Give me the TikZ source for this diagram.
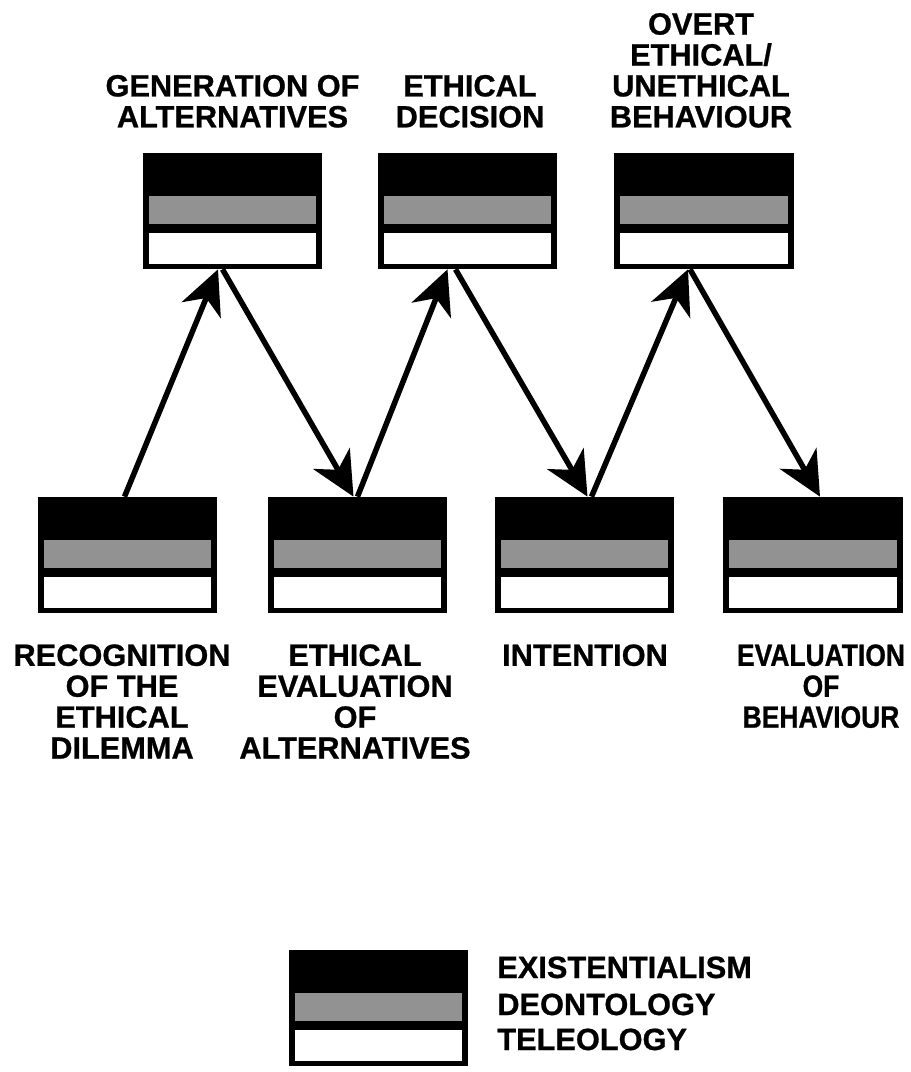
\documentclass[tikz,border=0pt]{standalone}
\usepackage{fontspec}
\setmainfont{Liberation Sans}
\usetikzlibrary{arrows.meta}
\definecolor{MyGray}{HTML}{929292}

\tikzset{
  stagebox/.style={fill=black, minimum width=3.6cm, minimum height=2.32cm, inner sep=0pt,
    path picture={
      \fill[MyGray] ([xshift=0.12cm,yshift=-0.86cm]path picture bounding box.north west)
        rectangle ([xshift=-0.12cm,yshift=-1.42cm]path picture bounding box.north east);
      \fill[white] ([xshift=0.12cm,yshift=-1.6cm]path picture bounding box.north west)
        rectangle ([xshift=-0.12cm,yshift=-2.22cm]path picture bounding box.north east);
    }},
  steplabel/.style={align=center, inner sep=0pt,
    font=\fontsize{17.5}{17.6}\selectfont\bfseries\addfontfeature{FakeBold=0.8}},
  flowarrow/.style={line width=0.11cm, -{Stealth[length=0.88cm, width=0.84cm, inset=0.26cm]}}
}

\begin{document}
\begin{tikzpicture}[x=0.02cm, y=-0.02cm]
        \useasboundingbox (0,0) rectangle (910,1072);

        % upper row
        \node[stagebox] (Gen) at (232.5,211) {};
        \node[stagebox] (Dec) at (467.5,211) {};
        \node[stagebox] (Beh) at (704,211) {};
        \node[steplabel, anchor=south] (GenL) at (232.5,128) {GENERATION OF\\ALTERNATIVES};
        \node[steplabel, anchor=south] (DecL) at (470,128) {ETHICAL\\DECISION};
        \node[steplabel, anchor=south] (BehL) at (701,128) {OVERT\\ETHICAL/\\UNETHICAL\\BEHAVIOUR};

        % lower row
        \node[stagebox] (Rec) at (127.5,555) {};
        \node[stagebox] (Eva) at (357.5,555) {};
        \node[stagebox] (Int) at (584.5,555) {};
        \node[stagebox] (Res) at (813,555) {};
        \node[steplabel, anchor=north] (RecL) at (122,644) {RECOGNITION\\OF THE\\ETHICAL\\DILEMMA};
        \node[steplabel, anchor=north] (EvaL) at (355,644) {ETHICAL\\EVALUATION\\OF\\ALTERNATIVES};
        \node[steplabel, anchor=north] (IntL) at (585,644) {INTENTION};
        \node[steplabel, anchor=north] (ResL) at (821,644)
          {\addfontfeature{FakeStretch=0.86}EVALUATION\\\addfontfeature{FakeStretch=0.86}OF\\\addfontfeature{FakeStretch=0.86}BEHAVIOUR};

        % zig-zag
        \draw[flowarrow] ([xshift=-0.06cm]Rec.north) -- ([xshift=-0.29cm]Gen.south);
        \draw[flowarrow] ([xshift=-0.2cm]Gen.south) -- ([xshift=-0.08cm]Eva.north);
        \draw[flowarrow] (Eva.north) -- ([xshift=-0.4cm]Dec.south);
        \draw[flowarrow] ([xshift=-0.24cm]Dec.south) -- ([xshift=0.06cm]Int.north);
        \draw[flowarrow] ([xshift=0.14cm]Int.north) -- ([xshift=-0.32cm]Beh.south);
        \draw[flowarrow] ([xshift=-0.28cm]Beh.south) -- ([xshift=0.14cm]Res.north);

        % key
        \node[stagebox] (Key) at (378.5,1008) {};
        \node[steplabel, anchor=base west] (KeyA) at (497,978) {EXISTENTIALISM};
        \node[steplabel, anchor=base west] (KeyB) at (497,1015) {DEONTOLOGY};
        \node[steplabel, anchor=base west] (KeyC) at (497,1050) {TELEOLOGY};
    \end{tikzpicture}
\end{document}
